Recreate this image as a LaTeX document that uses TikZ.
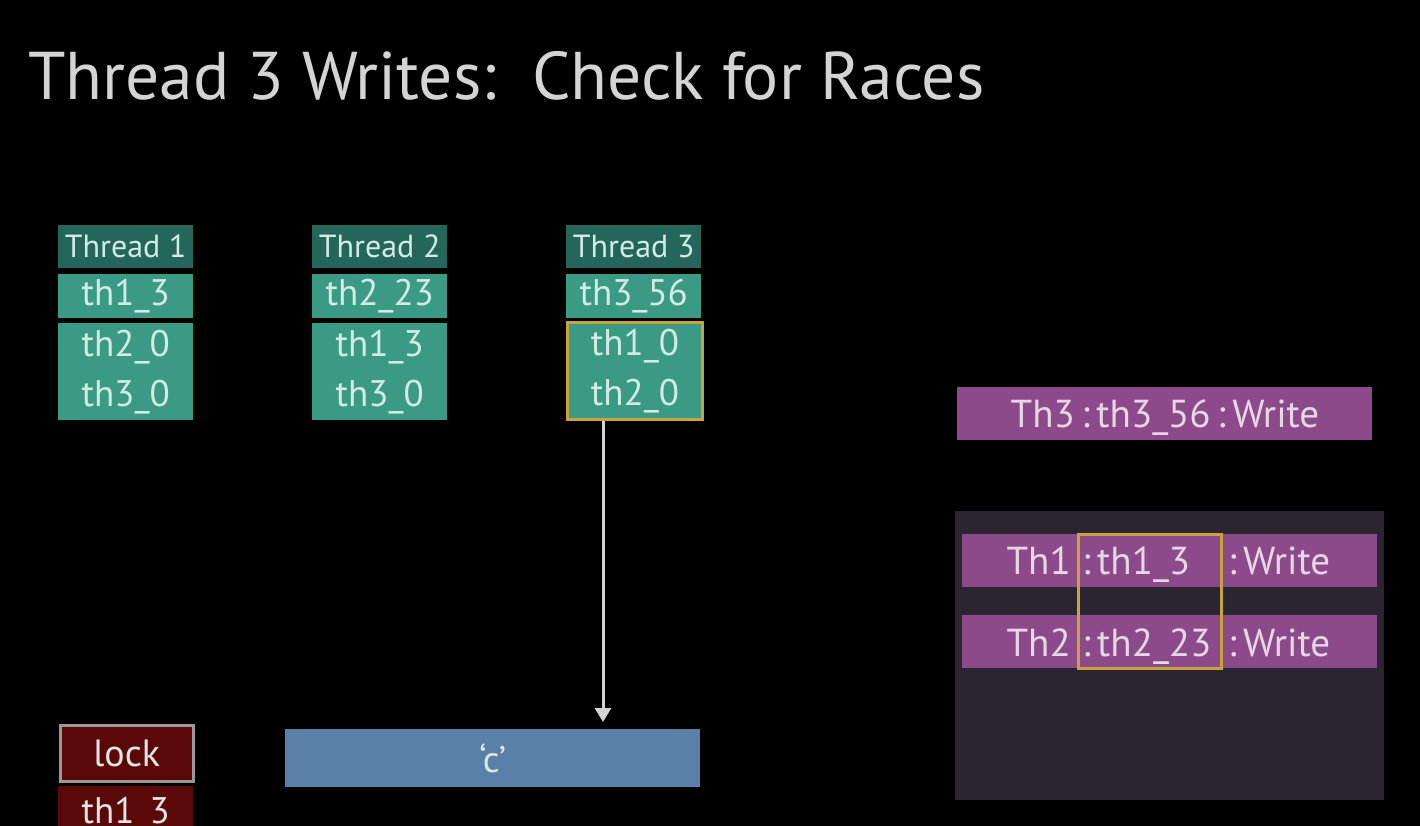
\documentclass[tikz,border=0pt]{standalone}
\usepackage{fontspec}
\setmainfont{PT Sans}
\newfontfamily\titlefont{PT Sans}
\usetikzlibrary{arrows.meta,calc}
\definecolor{bg}{HTML}{000000}
\definecolor{hdr}{HTML}{24665A}
\definecolor{itm}{HTML}{3A9A83}
\definecolor{tealtxt}{HTML}{D2ECE4}
\definecolor{purp}{HTML}{8C4A8A}
\definecolor{purptxt}{HTML}{E6D6E6}
\definecolor{panel}{HTML}{2A2530}
\definecolor{bluebox}{HTML}{5A80A8}
\definecolor{redbox}{HTML}{5A0808}
\definecolor{ylw}{HTML}{C9A43C}
\definecolor{ttl}{HTML}{D4D4D4}
\tikzset{
  cell/.style={anchor=north west, inner sep=0pt, minimum width=135pt, text=tealtxt},
  hcell/.style={cell, fill=hdr, minimum height=43pt, font=\fontsize{32}{34}\selectfont},
  icell/.style={cell, fill=itm, minimum height=44pt, font=\fontsize{37}{40}\selectfont},
  lcell/.style={cell, fill=itm, minimum height=97pt, align=center, font=\fontsize{37}{50}\selectfont},
  prow/.style={anchor=north west, inner sep=0pt, fill=purp, minimum width=415pt, minimum height=53pt},
  ptext/.style={inner sep=0pt, text=purptxt, font=\fontsize{39}{40}\selectfont},
}
\begin{document}
\begin{tikzpicture}[x=1pt,y=-1pt]
\useasboundingbox (0,0) rectangle (1420,826);
\clip (0,0) rectangle (1420,826);
\fill[bg] (0,0) rectangle (1420,826);
% title
\node[anchor=base west, inner sep=0pt, text=ttl, font=\titlefont\fontsize{67.5}{70}\selectfont] (title) at (28,100) {Thread 3 Writes:\ \ Check for Races};
% thread 1
\node[hcell] (t1h) at (58,225) {Thread 1};
\node[icell] (t1a) at (58,274) {th1\_3};
\node[lcell] (t1b) at (58,323) {th2\_0\\th3\_0};
% thread 2
\node[hcell] (t2h) at (312,225) {Thread 2};
\node[icell] (t2a) at (312,274) {th2\_23};
\node[lcell] (t2b) at (312,323) {th1\_3\\th3\_0};
% thread 3
\node[hcell] (t3h) at (566,225) {Thread 3};
\node[icell] (t3a) at (566,274) {th3\_56};
\node[lcell, draw=ylw, line width=3pt] (t3b) at (566,321) {th1\_0\\th2\_0};
% shadow cell
\node[anchor=north west, inner sep=0pt, fill=bluebox, minimum width=415pt, minimum height=58pt, text=tealtxt, font=\fontsize{37}{40}\selectfont] (c) at (285,729) {`c'};
\draw[line width=3pt, draw=ttl, -{Triangle[width=16pt,length=14pt]}, shorten >=7pt] (t3b.south -| 603,0) -- (c.north -| 603,0);
% lock
\node[anchor=north west, inner sep=0pt, fill=redbox, draw=gray!80, line width=2.5pt, minimum width=133pt, minimum height=56pt, text=white!90!black, font=\fontsize{38}{40}\selectfont] (lock) at (59,724) {lock};
\node[anchor=north west, inner sep=0pt, fill=redbox, minimum width=135pt, minimum height=56pt, text=white!90!black, font=\fontsize{37}{40}\selectfont] (lk) at (58,786) {th1\_3};
% current access
\node[prow, minimum height=53pt] (w3) at (957,387) {};
\node[ptext, anchor=base] (w3t) at (1165,427) {Th3\,:\,th3\_56\,:\,Write};
% history panel
\node[anchor=north west, inner sep=0pt, fill=panel, minimum width=429pt, minimum height=289pt] (panel) at (955,511) {};
\node[prow] (r1) at (962,534) {};
\node[prow] (r2) at (962,615) {};
\node[ptext, anchor=base east] (r1a) at (1071,574) {Th1};
\node[ptext, anchor=base west] (r1b) at (1082,574) {:\,th1\_3};
\node[ptext, anchor=base west] (r1c) at (1228,574) {:\,Write};
\node[ptext, anchor=base east] (r2a) at (1071,656) {Th2};
\node[ptext, anchor=base west] (r2b) at (1082,656) {:\,th2\_23};
\node[ptext, anchor=base west] (r2c) at (1228,656) {:\,Write};
\node[anchor=north west, inner sep=0pt, draw=ylw, line width=3pt, minimum width=143pt, minimum height=134pt] (hl) at (1077,533) {};
\end{tikzpicture}
\end{document}
